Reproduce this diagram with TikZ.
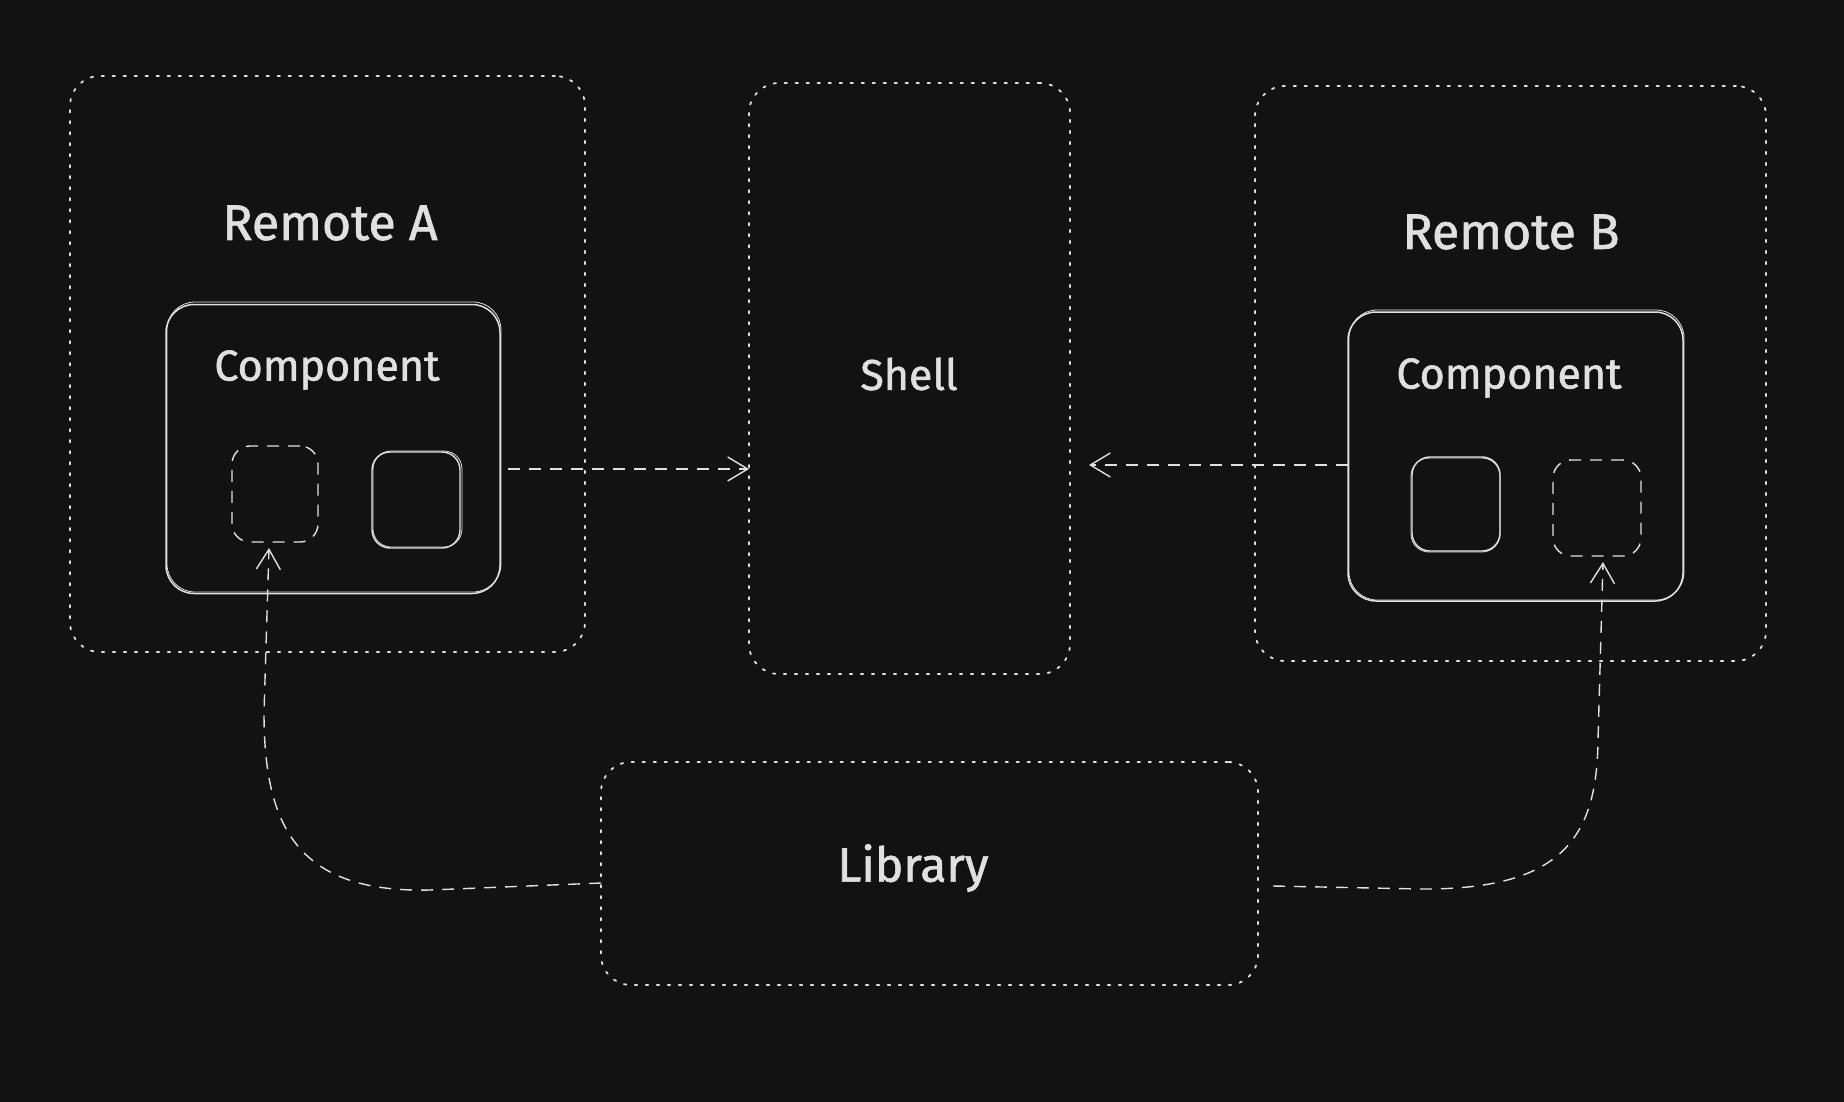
\documentclass[tikz,border=0pt]{standalone}
\usepackage{fontspec}
\newfontfamily\lblfont{Fira Sans}[FakeBold=1.3]
\usetikzlibrary{arrows.meta,calc}
\definecolor{bg}{HTML}{121212}
\definecolor{ink}{HTML}{E0E0E0}
\begin{document}
\begin{tikzpicture}[x=1pt,y=-1pt,
  every node/.style={inner sep=0pt, outer sep=0pt},
  outerbox/.style={draw=ink, line width=1.8pt, dash pattern=on 2.5pt off 8.5pt, rounded corners=30pt, line cap=round},
  compbox/.style={draw=ink, line width=1.5pt, rounded corners=28pt},
  smallsolid/.style={draw=ink, line width=1.4pt, rounded corners=18pt},
  smalldash/.style={draw=ink, line width=1.4pt, dash pattern=on 12pt off 9pt, rounded corners=18pt},
  conn/.style={draw=ink, line width=1.4pt, dash pattern=on 12pt off 9pt, -{Straight Barb[length=20pt,width=24pt,line width=1.4pt]}},
  label/.style={text=ink, font=\lblfont\fontsize{43}{50}\selectfont},
  biglabel/.style={text=ink, font=\lblfont\fontsize{50}{58}\selectfont}]
\fill[bg] (0,0) rectangle (1844,1102);
\useasboundingbox (0,0) rectangle (1844,1102);

% outer containers
\node[outerbox, minimum width=515pt, minimum height=576pt] (remA) at (327.5,364) {};
\node[outerbox, minimum width=321pt, minimum height=591pt] (shell) at (909.5,378.5) {};
\node[outerbox, minimum width=511pt, minimum height=575pt] (remB) at (1510.5,373.5) {};
\node[outerbox, minimum width=657pt, minimum height=223pt] (lib) at (929.5,873.5) {};

% components
\node[compbox, minimum width=334pt, minimum height=289pt] (compA) at (333,449) {};
\draw[ink, line width=0.8pt, rounded corners=28pt] (167,302) rectangle (501,592);
\node[compbox, minimum width=335pt, minimum height=289pt] (compB) at (1515.5,456.5) {};
\draw[ink, line width=0.8pt, rounded corners=28pt] (1349,310) rectangle (1684,600);

% small boxes
\node[smalldash, minimum width=86pt, minimum height=96pt] (smA1) at (275,494) {};
\node[smallsolid, minimum width=88pt, minimum height=96pt] (smA2) at (416,500) {};
\draw[ink, line width=0.8pt, rounded corners=18pt] (373,451) rectangle (462,547);
\node[smallsolid, minimum width=88pt, minimum height=94pt] (smB1) at (1456,504) {};
\draw[ink, line width=0.8pt, rounded corners=18pt] (1411,458) rectangle (1500,552);
\node[smalldash, minimum width=88pt, minimum height=96pt] (smB2) at (1597,508) {};

% labels
\node[biglabel] (tRemA) at (330,223) {Remote A};
\node[label] (tCompA) at (327,370) {Component};
\node[label] (tShell) at (909,374) {Shell};
\node[biglabel] (tRemB) at (1511,232) {Remote B};
\node[label] (tCompB) at (1509,378) {Component};
\node[label, font=\lblfont\fontsize{48}{56}\selectfont] (tLib) at (913,868) {Library};

% helper coordinates
\coordinate (ya) at (0,469);
\coordinate (yb) at (0,465);
\coordinate (yl) at (0,883);
\coordinate (yr) at (0,886);

% connectors
\draw[conn] ([xshift=8pt]compA.east |- ya) -- (shell.west |- ya);
\draw[conn] (compB.west |- yb) -- ([xshift=19pt]shell.east |- yb);
\draw[conn] (lib.west |- yl) -- (430,890) .. controls (300,893) and (264,830) .. (264,713) -- ([xshift=-6pt,yshift=-6pt]smA1.south);
\draw[conn] ([xshift=15pt]lib.east |- yr) -- (1420,889) .. controls (1560,890) and (1597,840) .. (1598,740) -- ([xshift=6pt,yshift=-6pt]smB2.south);
\end{tikzpicture}
\end{document}
